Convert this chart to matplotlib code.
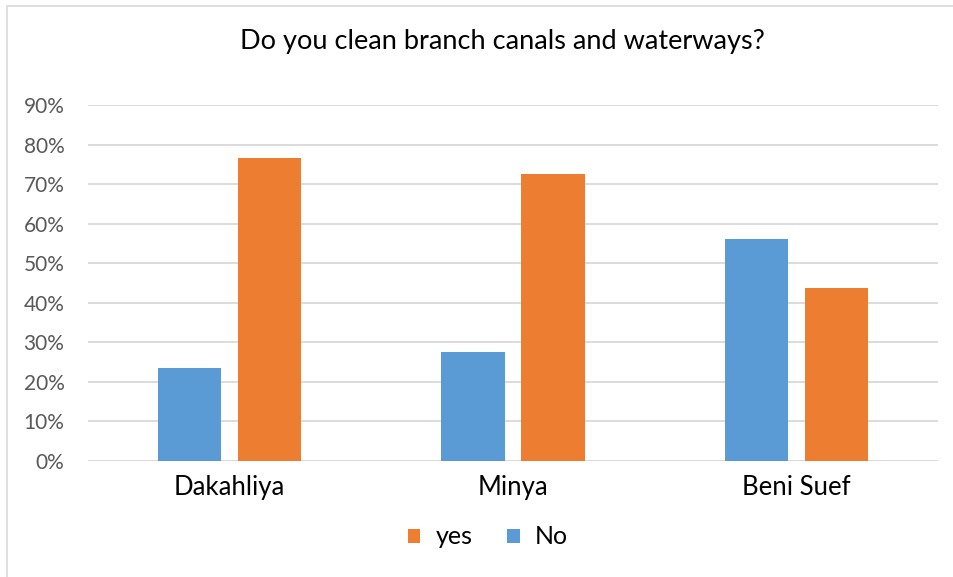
import numpy as np
import matplotlib.pyplot as plt
from matplotlib.patches import Rectangle

categories = ['Dakahliya', 'Minya', 'Beni Suef']
no_vals = [0.235, 0.275, 0.562]
yes_vals = [0.765, 0.725, 0.438]
ticks = [0, 0.1, 0.2, 0.3, 0.4, 0.5, 0.6, 0.7, 0.8, 0.9]

plt.rcParams['font.family'] = ['Lato', 'DejaVu Sans']

fig = plt.figure(figsize=(9.54, 5.77), dpi=100)
ax = fig.add_axes([88/954, 1 - 461/577, 850/954, (461 - 105)/577])

# marco exterior
fig.patches.append(Rectangle((7/954, -0.01), 2, 1 - 6/577 + 0.01, transform=fig.transFigure,
                             fill=False, edgecolor='#d9d9d9', linewidth=1.2))

x = np.arange(len(categories))
w = 0.223
off = 0.141
ax.bar(x - off, no_vals, w, color='#5b9bd5', label='No', zorder=3)
ax.bar(x + off, yes_vals, w, color='#ed7d31', label='yes', zorder=3)

ax.set_xlim(-0.5, 2.5)
ax.set_ylim(0, 0.9)
ax.set_yticks(ticks)
ax.set_yticklabels([f'{int(round(t*100))}%' for t in ticks], color='#595959', fontsize=15)
ax.yaxis.grid(True, color='#d9d9d9', linewidth=1.3, zorder=0)
ax.set_xticks(x)
ax.set_xticklabels(categories, fontsize=18.5, color='black')
ax.tick_params(axis='both', length=0)
ax.tick_params(axis='x', pad=10)
ax.tick_params(axis='y', pad=17)
for s in ax.spines.values():
    s.set_visible(False)
ax.axhline(0, color='#d9d9d9', linewidth=1.3, zorder=2)

fig.text(502/954, 1 - 42/577, 'Do you clean branch canals and waterways?', ha='center', va='center',
         fontsize=19.5, color='black')

h, l = ax.get_legend_handles_labels()
fig.legend(h[::-1], l[::-1], loc='center', bbox_to_anchor=(488/954, 1 - 537/577), ncol=2,
           frameon=False, fontsize=18, handlelength=0.5, handleheight=0.5,
           handletextpad=0.6, columnspacing=1.4)

fig.savefig('out.png', dpi=100)
